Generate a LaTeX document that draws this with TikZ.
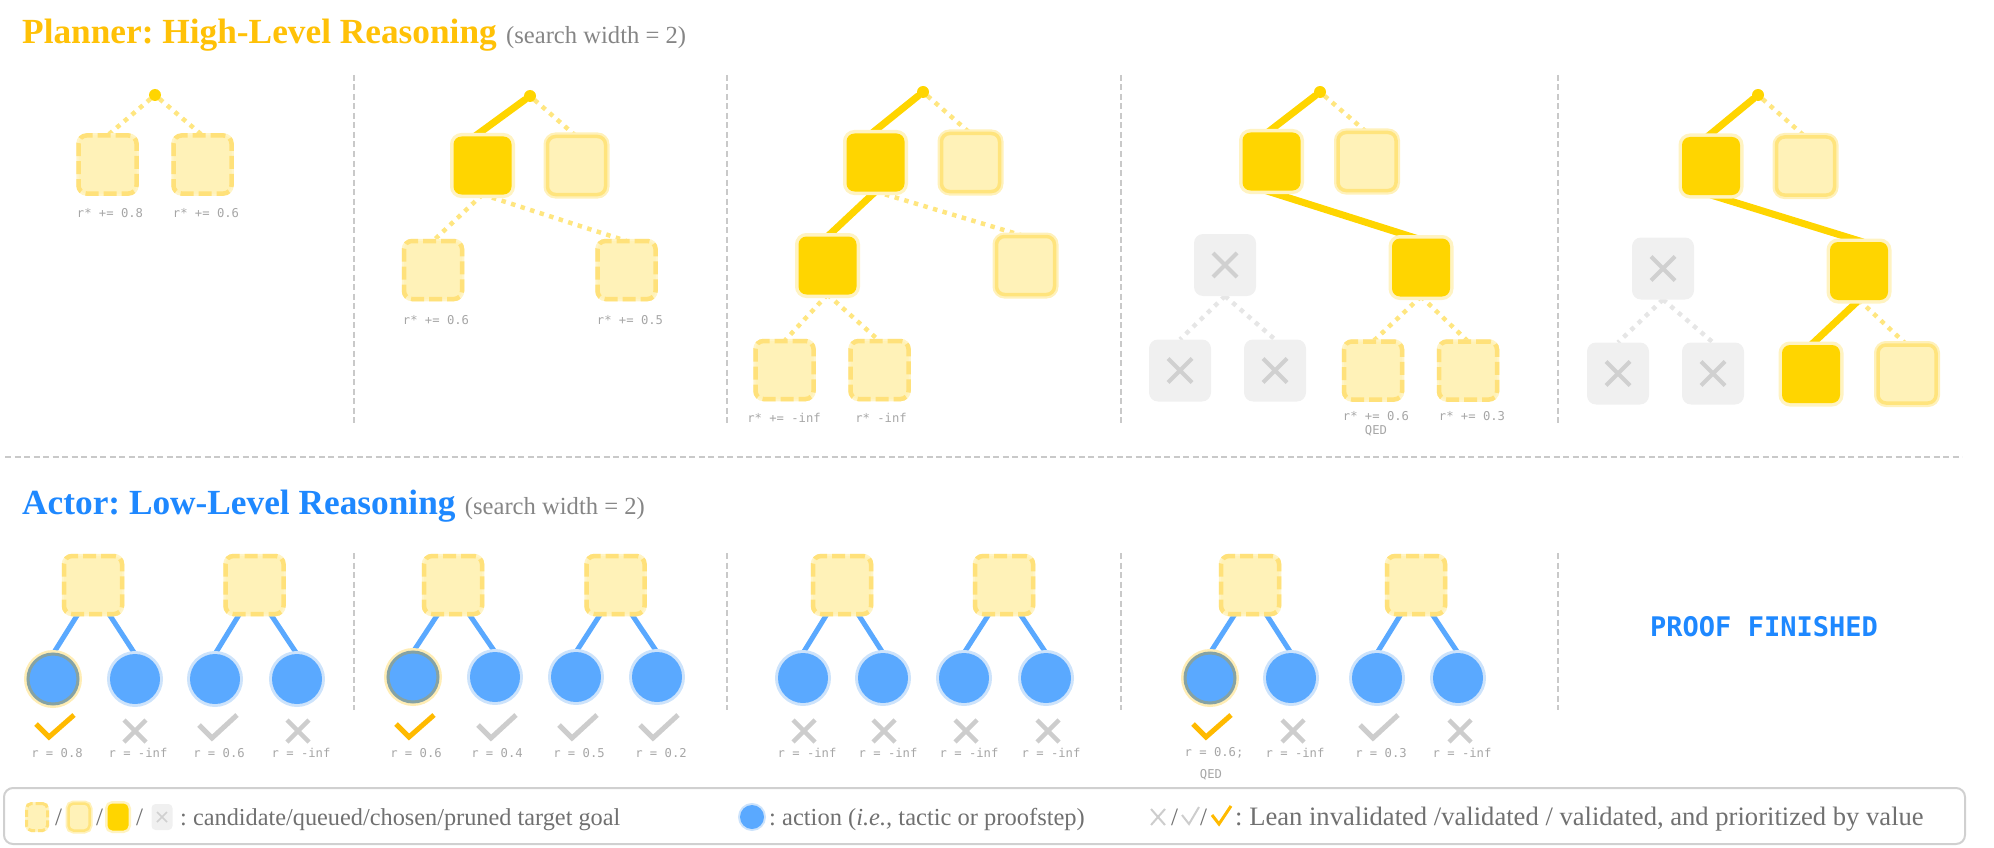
\documentclass[tikz,border=0pt]{standalone}
\usepackage{fontspec}
\setmainfont{Liberation Serif}
\newfontfamily\monof{DejaVu Sans Mono}
\frenchspacing
\definecolor{gold}{HTML}{FFD500}
\definecolor{titlegold}{HTML}{FFC107}
\definecolor{titleblue}{HTML}{1E88FF}
\definecolor{subgray}{HTML}{858585}
\definecolor{candfill}{HTML}{FFF2B8}
\definecolor{canddash}{HTML}{FFE17A}
\definecolor{candhalo}{HTML}{FFF4C6}
\definecolor{qring}{HTML}{FFE47D}
\definecolor{qhalo}{HTML}{FFF1BA}
\definecolor{chalo}{HTML}{FFF3C2}
\definecolor{prfill}{HTML}{F0F0F0}
\definecolor{prx}{HTML}{D0D0D0}
\definecolor{dotyellow}{HTML}{FFE680}
\definecolor{dotgray}{HTML}{E6E6E6}
\definecolor{actblue}{HTML}{5AA9FF}
\definecolor{acthalo}{HTML}{CDE3FB}
\definecolor{actring}{HTML}{85A2A4}
\definecolor{actyhalo}{HTML}{FFEDB5}
\definecolor{labgray}{HTML}{A6A6A6}
\definecolor{sepgray}{HTML}{C9C9C9}
\definecolor{markgray}{HTML}{CDCDCD}
\definecolor{markgold}{HTML}{FFBA00}
\definecolor{legtext}{HTML}{707070}
\definecolor{legborder}{HTML}{D0D0D0}
\pgfdeclarelayer{bg}
\pgfsetlayers{bg,main}
\newcommand\pX[1]{\draw[draw=prx,line width=4pt] ([shift={(-12pt,-12pt)}]#1.center) -- ([shift={(12pt,12pt)}]#1.center) ([shift={(-12pt,12pt)}]#1.center) -- ([shift={(12pt,-12pt)}]#1.center);}
\newcommand\ychk[2]{\draw[draw=markgold,line width=5pt] (#1-19,#2-5) -- (#1-6,#2+8) -- (#1+19,#2-14);}
\newcommand\gchk[2]{\draw[draw=markgray,line width=5pt] (#1-19,#2-4) -- (#1-6,#2+9) -- (#1+19,#2-14);}
\newcommand\xmk[2]{\draw[draw=markgray,line width=4.5pt] (#1-11,#2-11) -- (#1+11,#2+11) (#1-11,#2+11) -- (#1+11,#2-11);}
\begin{document}
\begin{tikzpicture}[x=1pt,y=-1pt,
  goal/.style={rectangle, minimum size=58pt, inner sep=0pt, outer sep=0pt, rounded corners=8pt},
  cand/.style={goal, fill=candfill, draw=canddash, line width=4.5pt, dash pattern=on 13pt off 5pt, preaction={draw=candhalo, line width=4.5pt, solid}},
  queued/.style={goal, fill=candfill, draw=qring, line width=3.5pt, preaction={draw=qhalo, line width=8pt}},
  chosen/.style={goal, fill=gold, preaction={draw=chalo, line width=7pt}},
  pruned/.style={goal, minimum size=62pt, rounded corners=9pt, fill=prfill},
  root/.style={circle, fill=gold, minimum size=12pt, inner sep=0pt, outer sep=0pt},
  solidc/.style={draw=gold, line width=7pt, line cap=round},
  dotc/.style={draw=dotyellow, line width=4.5pt, dash pattern=on 4.5pt off 5.5pt},
  gdotc/.style={dotc, draw=dotgray},
  act/.style={circle, minimum size=50pt, inner sep=0pt, outer sep=0pt, fill=actblue, preaction={draw=acthalo, line width=6pt}},
  actc/.style={circle, minimum size=50pt, inner sep=0pt, outer sep=0pt, fill=actblue, draw=actring, line width=3pt, preaction={draw=actyhalo, line width=8pt}},
  bluec/.style={draw=actblue, line width=5pt},
  lab/.style={font=\monof\fontsize{12.2}{14}\selectfont, text=labgray, inner sep=0pt},
  sep/.style={draw=sepgray, line width=2pt, dash pattern=on 6pt off 3.5pt},
  ltxt/.style={font=\fontsize{25}{30}\selectfont, text=legtext, inner sep=0pt, anchor=base west},
  lcand/.style={rectangle, minimum width=21pt, minimum height=27pt, inner sep=0pt, rounded corners=5pt, fill=candfill, draw=canddash, line width=3pt, dash pattern=on 7pt off 3pt, preaction={draw=candhalo, line width=3pt, solid}},
  lqueued/.style={rectangle, minimum width=21pt, minimum height=27pt, inner sep=0pt, rounded corners=5pt, fill=candfill, draw=qring, line width=2.5pt, preaction={draw=qhalo, line width=6pt}},
  lchosen/.style={rectangle, minimum width=21pt, minimum height=27pt, inner sep=0pt, rounded corners=5pt, fill=gold, preaction={draw=chalo, line width=5pt}},
  lpruned/.style={rectangle, minimum width=21pt, minimum height=26pt, inner sep=0pt, rounded corners=4pt, fill=prfill},
  lact/.style={circle, minimum size=24pt, inner sep=0pt, fill=actblue, preaction={draw=acthalo, line width=4pt}},
  ttl/.style={anchor=base west, inner sep=0pt, font=\bfseries\fontsize{35.3}{40}\selectfont},
  sub/.style={anchor=base west, inner sep=0pt, text=subgray, font=\fontsize{24.6}{28}\selectfont}
]
\useasboundingbox (0,0) rectangle (1994,848);

% ---------- titles ----------
\node[ttl, text=titlegold] (t1) at (22,44) {Planner: High-Level Reasoning};
\node[sub] (t1s) at ([xshift=9pt]t1.base east) {(search width = 2)};
\node[ttl, text=titleblue] (t2) at (22,514) {Actor: Low-Level Reasoning};
\node[sub] (t2s) at ([xshift=9pt]t2.base east) {(search width = 2)};

% ---------- separators ----------
\foreach \sx in {354,727,1121,1558} {
  \draw[sep] (\sx,75) -- (\sx,424);
  \draw[sep] (\sx,553) -- (\sx,710);
}
\draw[sep] (5,457) -- (1962,457);

% ---------- planner panel 1 ----------
\node[root] (r1) at (155,95) {};
\node[cand] (p1a) at (107.5,164.5) {};
\node[cand] (p1b) at (202.5,164.5) {};
\node[lab] (l1a) at (110,213) {r* += 0.8};
\node[lab] (l1b) at (206,213) {r* += 0.6};

% ---------- planner panel 2 ----------
\node[root] (r2) at (530,96) {};
\node[chosen] (p2a) at (482.5,165.5) {};
\node[queued] (p2b) at (576.5,165.5) {};
\node[cand] (p2c) at (433,270) {};
\node[cand] (p2d) at (626.5,270) {};
\node[lab] (l2c) at (436,320) {r* += 0.6};
\node[lab] (l2d) at (630,320) {r* += 0.5};

% ---------- planner panel 3 ----------
\node[root] (r3) at (923,92) {};
\node[chosen] (p3a) at (875.5,162.5) {};
\node[queued] (p3b) at (970.5,162.5) {};
\node[chosen] (p3c) at (827.5,265.5) {};
\node[queued] (p3d) at (1025.5,265.5) {};
\node[cand] (p3e) at (784.5,370) {};
\node[cand] (p3f) at (879.5,370) {};
\node[lab] (l3e) at (784,418) {r* += -inf};
\node[lab] (l3f) at (881,418) {r* -inf};

% ---------- planner panel 4 ----------
\node[root] (r4) at (1320,92) {};
\node[chosen] (p4a) at (1271.5,161.5) {};
\node[queued] (p4b) at (1367,161.5) {};
\node[pruned] (p4c) at (1225,265) {};
\node[chosen] (p4d) at (1421,267.5) {};
\node[pruned] (p4e) at (1180,370.5) {};
\node[pruned] (p4f) at (1275,370.5) {};
\node[cand] (p4g) at (1373,370.5) {};
\node[cand] (p4h) at (1468,370.5) {};
\pX{p4c}\pX{p4e}\pX{p4f}
\node[lab] (l4g) at (1376,416) {r* += 0.6};
\node[lab] (l4q) at (1376,431) {QED};
\node[lab] (l4h) at (1472,416) {r* += 0.3};

% ---------- planner panel 5 ----------
\node[root] (r5) at (1758,95) {};
\node[chosen] (p5a) at (1711,166) {};
\node[queued] (p5b) at (1805.5,166) {};
\node[pruned] (p5c) at (1663,268.5) {};
\node[chosen] (p5d) at (1859,271) {};
\node[pruned] (p5e) at (1618,373.5) {};
\node[pruned] (p5f) at (1713,373.5) {};
\node[chosen] (p5g) at (1811,374) {};
\node[queued] (p5h) at (1907,374) {};
\pX{p5c}\pX{p5e}\pX{p5f}

% ---------- actor panels ----------
% panel A1
\node[cand] (a1b1) at (93,585) {};
\node[cand] (a1b2) at (254.5,585) {};
\node[actc] (a1c1) at (53,679) {};
\node[act] (a1c2) at (135,679) {};
\node[act] (a1c3) at (215,679) {};
\node[act] (a1c4) at (297,679) {};
% panel A2
\node[cand] (a2b1) at (453,585) {};
\node[cand] (a2b2) at (615.5,585) {};
\node[actc] (a2c1) at (413,677) {};
\node[act] (a2c2) at (495,677) {};
\node[act] (a2c3) at (576,677) {};
\node[act] (a2c4) at (657,677) {};
% panel A3
\node[cand] (a3b1) at (842,585) {};
\node[cand] (a3b2) at (1004,585) {};
\node[act] (a3c1) at (803,678) {};
\node[act] (a3c2) at (883,678) {};
\node[act] (a3c3) at (964,678) {};
\node[act] (a3c4) at (1046,678) {};
% panel A4
\node[cand] (a4b1) at (1250,585) {};
\node[cand] (a4b2) at (1416,585) {};
\node[actc] (a4c1) at (1210,678) {};
\node[act] (a4c2) at (1291,678) {};
\node[act] (a4c3) at (1377,678) {};
\node[act] (a4c4) at (1458,678) {};

\node[text=titleblue, inner sep=0pt, font=\monof\bfseries\fontsize{27}{30}\selectfont] (pf) at (1764,627) {PROOF FINISHED};

% marks
\ychk{55}{729}\xmk{135}{731}\gchk{218}{729}\xmk{298}{731}
\ychk{415}{729}\gchk{497}{729}\gchk{578}{729}\gchk{659}{729}
\xmk{804}{731}\xmk{884}{731}\xmk{966}{731}\xmk{1048}{731}
\ychk{1212}{729}\xmk{1293}{731}\gchk{1379}{729}\xmk{1460}{731}

% labels
\node[lab] at (57,753) {r = 0.8};
\node[lab] at (138,753) {r = -inf};
\node[lab] at (219,753) {r = 0.6};
\node[lab] at (301,753) {r = -inf};
\node[lab] at (416,753) {r = 0.6};
\node[lab] at (497,753) {r = 0.4};
\node[lab] at (579,753) {r = 0.5};
\node[lab] at (661,753) {r = 0.2};
\node[lab] at (807,753) {r = -inf};
\node[lab] at (888,753) {r = -inf};
\node[lab] at (969,753) {r = -inf};
\node[lab] at (1051,753) {r = -inf};
\node[lab] at (1214,753) {r = 0.6;};
\node[lab] at (1211,775) {QED};
\node[lab] at (1295,753) {r = -inf};
\node[lab] at (1381,753) {r = 0.3};
\node[lab] at (1462,753) {r = -inf};

% ---------- connectors ----------
\begin{pgfonlayer}{bg}
\draw[dotc] (r1) -- (p1a.north);
\draw[dotc] (r1) -- (p1b.north);

\draw[solidc] (r2) -- ([xshift=-8pt]p2a.north);
\draw[dotc] (r2) -- (p2b.north);
\draw[dotc] (p2a.south) -- (p2c.north);
\draw[dotc] (p2a.south) -- (p2d.north);

\draw[solidc] (r3) -- ([xshift=-4pt]p3a.north);
\draw[dotc] (r3) -- (p3b.north);
\draw[solidc] (p3a.south) -- (p3c.north);
\draw[dotc] (p3a.south) -- (p3d.north);
\draw[dotc] (p3c.south) -- (p3e.north);
\draw[dotc] (p3c.south) -- (p3f.north);

\draw[solidc] (r4) -- ([xshift=-4pt]p4a.north);
\draw[dotc] (r4) -- (p4b.north);
\draw[solidc] ([xshift=-6pt]p4a.south) -- ([xshift=-4pt]p4d.north);
\draw[gdotc] (p4c.south) -- (p4e.north);
\draw[gdotc] (p4c.south) -- (p4f.north);
\draw[dotc] (p4d.south) -- (p4g.north);
\draw[dotc] (p4d.south) -- (p4h.north);

\draw[solidc] (r5) -- ([xshift=-4pt]p5a.north);
\draw[dotc] (r5) -- (p5b.north);
\draw[solidc] (p5a.south) -- ([xshift=4pt]p5d.north);
\draw[gdotc] (p5c.south) -- (p5e.north);
\draw[gdotc] (p5c.south) -- (p5f.north);
\draw[solidc] (p5d.south) -- (p5g.north);
\draw[dotc] (p5d.south) -- (p5h.north);

\foreach \p in {1,2,3,4} {
  \draw[bluec] ([xshift=-15pt]a\p b1.south) -- (a\p c1.north);
  \draw[bluec] ([xshift=16pt]a\p b1.south) -- (a\p c2.north);
  \draw[bluec] ([xshift=-15pt]a\p b2.south) -- (a\p c3.north);
  \draw[bluec] ([xshift=16pt]a\p b2.south) -- (a\p c4.north);
}
\end{pgfonlayer}

% ---------- legend ----------
\draw[draw=legborder, line width=2pt, rounded corners=9pt] (4,788) rectangle (1965,844);
\node[lcand] (lg1) at (37,817) {};
\node[ltxt] (ls1) at (55,825) {/};
\node[lqueued] (lg2) at (79,817) {};
\node[ltxt] (ls2) at (96,825) {/};
\node[lchosen] (lg3) at (118,817) {};
\node[ltxt] (ls3) at (136,825) {/};
\node[lpruned] (lg4) at (162,817) {};
\draw[draw=prx, line width=1.5pt] (157,812) -- (167,822) (157,822) -- (167,812);
\node[ltxt, font=\fontsize{24.3}{30}\selectfont] (lt1) at (180,825) {: candidate/queued/chosen/pruned target goal};
\node[lact] (lg5) at (752,817) {};
\node[ltxt, font=\fontsize{24.5}{30}\selectfont] (lt2) at (769,825) {: action (\textit{i.e.,} tactic or proofstep)};
\draw[draw=markgray, line width=2pt] (1151,809) -- (1165,825) (1151,825) -- (1165,809);
\node[ltxt] (ls4) at (1171,825) {/};
\draw[draw=markgray, line width=2pt] (1182,815) -- (1189,824) -- (1199,807);
\node[ltxt] (ls5) at (1200,825) {/};
\draw[draw=markgold, line width=3pt] (1212,815) -- (1219,824) -- (1231,806);
\node[ltxt, font=\fontsize{26.6}{30}\selectfont] (lt3) at (1235,825) {: Lean invalidated /validated / validated, and prioritized by value};
\end{tikzpicture}
\end{document}
